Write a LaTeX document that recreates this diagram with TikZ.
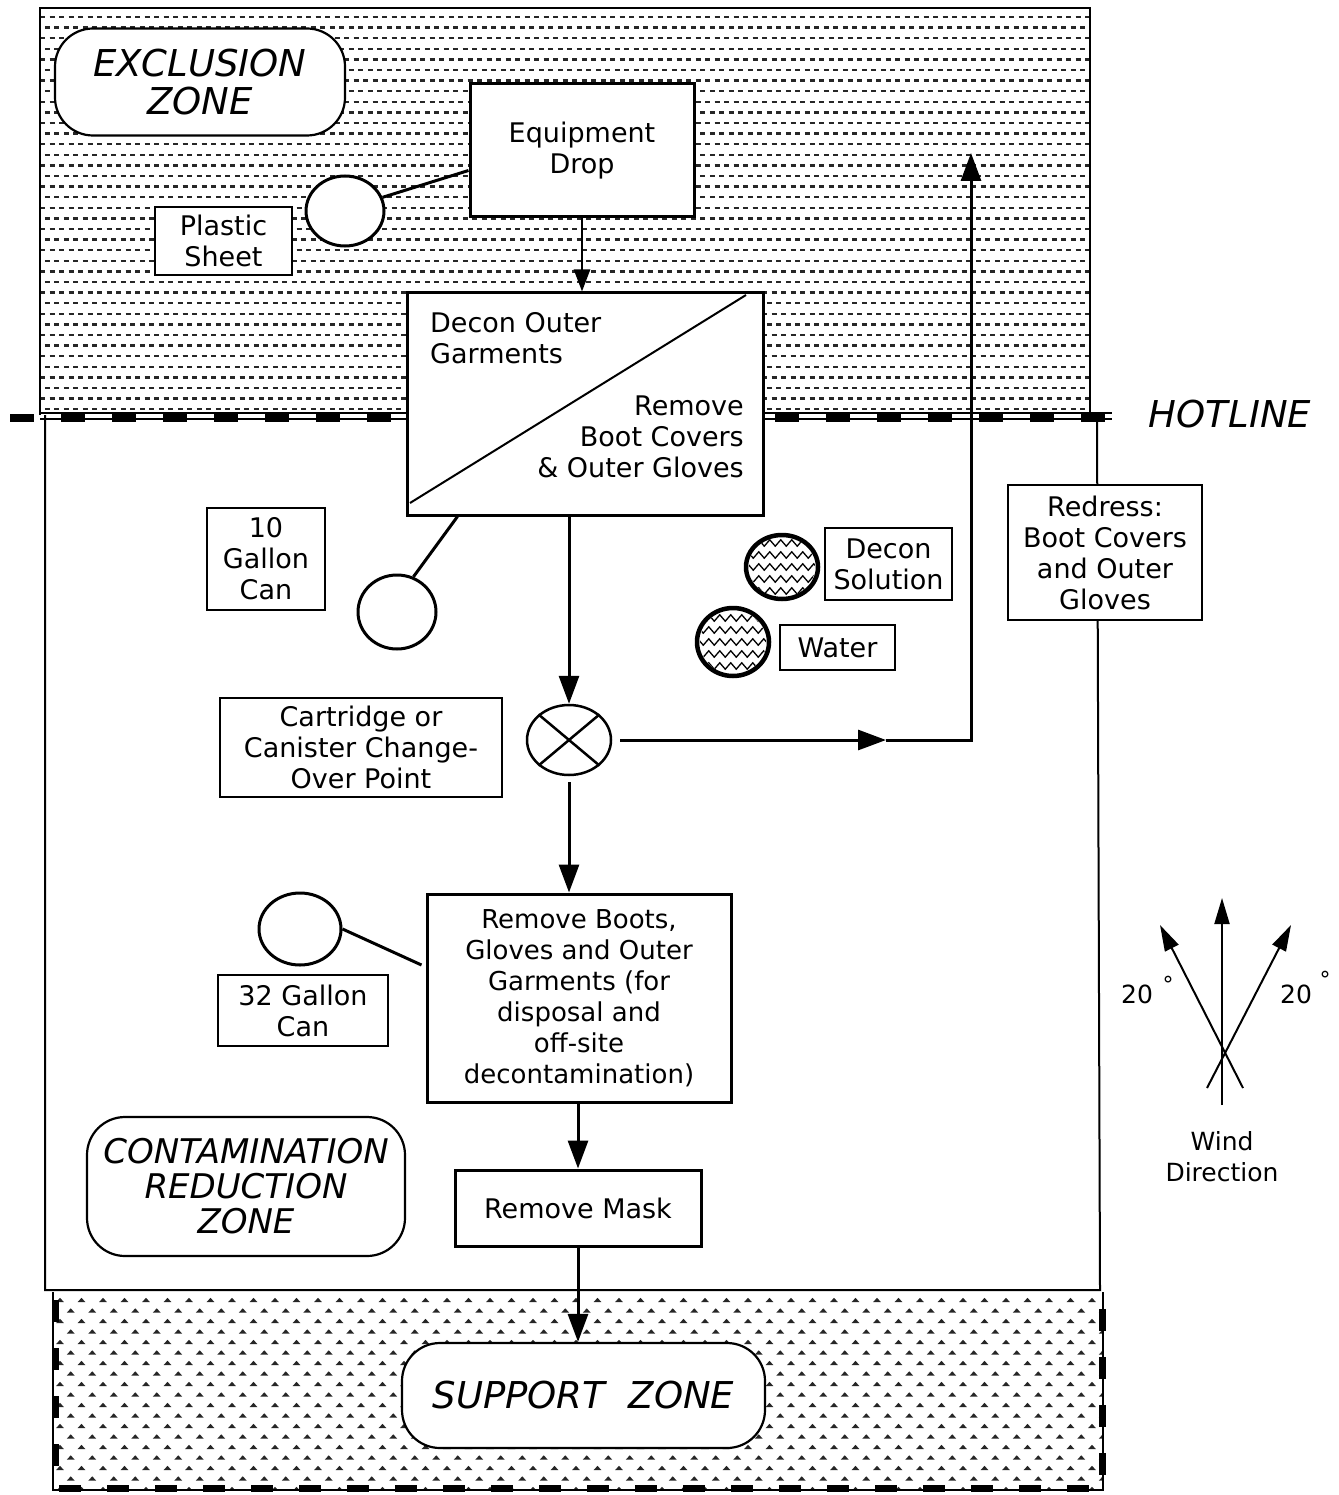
\documentclass[tikz,border=0pt]{standalone}
\usepackage{fontspec}
\setmainfont{DejaVu Sans}
\usetikzlibrary{arrows.meta,shapes.geometric,calc,decorations.pathmorphing}
\begin{document}
\begin{tikzpicture}[x=1pt,y=-1pt,
 box/.style={draw,line width=3pt,fill=white,inner sep=0pt,align=center,font=\fontsize{27}{31}\selectfont},
 sbox/.style={box,line width=2pt},
 zone/.style={draw,line width=2.2pt,fill=white,rounded corners=38pt,inner sep=0pt,align=center,font=\fontsize{36}{36}\selectfont\itshape},
 can/.style={draw,ellipse,line width=3pt,fill=white,inner sep=0pt},
 arr/.style={line width=3pt,-{Triangle[length=28pt,width=20pt]}},
 warr/.style={line width=2pt,-{Triangle[length=26pt,width=15pt]}},
 ln/.style={line width=3pt},
 txt/.style={inner sep=0pt,font=\fontsize{27}{31}\selectfont},
 pat/.style={black!85,line width=2.3pt,dash pattern=on 5pt off 4.5pt},
 wave/.style={line width=1.3pt,decorate,decoration={zigzag,segment length=11pt,amplitude=3.2pt}},
 ]
\fill[white] (0,0) rectangle (1338,1495);
\useasboundingbox (0,0) rectangle (1338,1495);

% ---------- exclusion zone pattern
\begin{scope}
\clip (40,10) rectangle (1090,409);
\foreach \i in {0,...,37} {
  \pgfmathsetmacro\yy{17+10.6*\i}
  \pgfmathsetmacro\ph{mod(\i,2)*4.7}
  \draw[pat,dash phase=\ph pt] (40,\yy) -- (1090,\yy);
}
\end{scope}
\draw[line width=2pt] (40,415) -- (40,8) -- (1090,8) -- (1090,415);

% ---------- support zone pattern
\begin{scope}
\clip (52,1292) rectangle (1103,1490);
\foreach \r in {0,...,18} {
  \pgfmathsetmacro\yy{1300+10.5*\r}
  \pgfmathsetmacro\xo{60+mod(\r,2)*10.75}
  \foreach \c in {0,...,49} {
    \pgfmathsetmacro\xx{\xo+21.5*\c}
    \fill[black!85] (\xx-3.8,\yy+2) -- (\xx,\yy-2.2) -- (\xx+3.8,\yy+2) -- cycle;
  }
}
\end{scope}
\draw[line width=1.5pt] (53,1292) -- (53,1490) -- (1103,1490) -- (1103,1292);
\draw[line width=7pt,dash pattern=on 22pt off 26pt] (55,1300) -- (55,1488) -- (1102,1488) -- (1102,1300);

% ---------- contamination reduction zone frame
\draw[line width=2pt] (45,415) -- (45,1290) -- (1100,1290) -- (1097,415);

% ---------- hotline
\draw[line width=1.2pt] (40,413) -- (1112,413);
\draw[line width=1.2pt] (40,419) -- (1112,419);
\draw[line width=8pt,dash pattern=on 24pt off 27pt] (10,418) -- (1116,418);
\node[inner sep=0pt,font=\fontsize{37}{37}\selectfont\itshape] (hot) at (1230,414) {HOTLINE};

% ---------- zone labels
\node[zone,minimum width=290pt,minimum height=107pt,font=\fontsize{37}{38}\selectfont\itshape] (exz) at (200,82) {EXCLUSION\\ZONE};
\node[zone,minimum width=318pt,minimum height=139pt,font=\fontsize{34}{35}\selectfont\itshape] (crz) at (246,1186.5) {CONTAMINATION\\REDUCTION\\ZONE};
\node[zone,minimum width=363pt,minimum height=105pt,font=\fontsize{37}{38}\selectfont\itshape] (sz) at (583.5,1395.5) {SUPPORT\ \ ZONE};

% ---------- exclusion zone items
\node[box,minimum width=224pt,minimum height=133pt] (equip) at (582,150.5) {Equipment\\Drop};
\node[sbox,minimum width=137pt,minimum height=68pt] (plastic) at (223.5,241) {Plastic\\Sheet};
\node[can,minimum width=78pt,minimum height=70pt] (psc) at (345,211) {};
\draw[ln] (psc.20) -- ($(equip.west)+(0,20)$);

% ---------- decon box
\node[box,minimum width=356pt,minimum height=222pt] (decon) at (585,404) {};
\coordinate (dA) at (410,503);
\coordinate (dB) at (746,295);
\draw[line width=2pt] (dA) -- (dB);
\node[txt,anchor=north west,align=left] (dtxt1) at (430,312) {Decon Outer\\Garments};
\node[txt,anchor=north east,align=right] (dtxt2) at (744,396) {Remove\\Boot Covers\\\& Outer Gloves};
\draw[line width=2.5pt,-{Triangle[length=22pt,width=16pt]}] (equip.south) -- (equip.south |- decon.north);

% ---------- 10 gallon can
\node[sbox,minimum width=118pt,minimum height=102pt] (can10) at (266,559) {10\\Gallon\\Can};
\node[can,minimum width=78pt,minimum height=74pt] (c10) at (397,612) {};
\draw[ln] (c10.65) -- ($(decon.south west)+(52,0)$);

% ---------- decon solution and water
\begin{scope}
\clip (782,567) ellipse (33pt and 30pt);
\foreach \k in {-2,...,2} {\draw[wave] (745,567+12*\k) -- (822,567+12*\k);}
\end{scope}
\node[can,fill=none,line width=4.5pt,minimum width=72pt,minimum height=64pt] (dsc) at (782,567) {};
\node[sbox,minimum width=127pt,minimum height=72pt] (dsbox) at (888.5,564) {Decon\\Solution};
\begin{scope}
\clip (733,642) ellipse (33pt and 32pt);
\foreach \k in {-3,...,3} {\draw[wave] (695,642+12*\k) -- (772,642+12*\k);}
\end{scope}
\node[can,fill=none,line width=4.5pt,minimum width=72pt,minimum height=68pt] (wc) at (733,642) {};
\node[sbox,minimum width=115pt,minimum height=45pt] (wbox) at (837.5,647.5) {Water};

% ---------- change-over point
\node[can,line width=2.5pt,minimum width=84pt,minimum height=70pt] (cross) at (569,740) {};
\draw[line width=2.5pt] (cross.north west) -- (cross.south east);
\draw[line width=2.5pt] (cross.north east) -- (cross.south west);
\node[sbox,minimum width=282pt,minimum height=99pt] (cart) at (361,747.5) {Cartridge or\\Canister Change-\\Over Point};
\draw[arr] (cross.north |- decon.south) -- (cross.north);

% ---------- redress route
\node[sbox,minimum width=194pt,minimum height=135pt] (redress) at (1105,552.5) {Redress:\\Boot Covers\\and Outer\\Gloves};
\coordinate (rmid) at (886,740);
\coordinate (rcorner) at (971,740);
\coordinate (rtop) at (971,153);
\draw[arr] ($(cross.east)+(8,0)$) -- (rmid);
\draw[arr] (rmid) -- (rcorner) -- (rtop);

% ---------- remove boots
\node[box,minimum width=304pt,minimum height=208pt,font=\fontsize{26}{31}\selectfont] (boots) at (579,998) {Remove Boots,\\Gloves and Outer\\Garments (for\\disposal and\\off-site\\decontamination)};
\draw[arr] ($(cross.south)+(0,6)$) -- (cross.south |- boots.north);
\node[can,minimum width=82pt,minimum height=72pt] (c32) at (300,929) {};
\node[sbox,minimum width=170pt,minimum height=71pt] (can32) at (303,1010.5) {32 Gallon\\Can};
\draw[ln] (c32.east) -- ($(boots.west)+(-4,-33)$);

% ---------- remove mask
\node[box,minimum width=246pt,minimum height=76pt] (mask) at (578,1208) {Remove Mask};
\draw[arr] (mask.north |- boots.south) -- (mask.north);
\draw[arr] (mask.south) -- (mask.south |- sz.north);

% ---------- wind direction
\coordinate (w0) at (1222,1105);
\coordinate (w1) at (1222,898);
\coordinate (wl0) at (1243,1088);
\coordinate (wl1) at (1160,925);
\coordinate (wr0) at (1207,1088);
\coordinate (wr1) at (1291,925);
\draw[warr] (w0) -- (w1);
\draw[warr] (wl0) -- (wl1);
\draw[warr] (wr0) -- (wr1);
\node[txt,font=\fontsize{25}{31}\selectfont] (d20l) at (1137,994) {20};
\node[txt,font=\fontsize{22}{22}\selectfont] (degl) at (1168,984) {°};
\node[txt,font=\fontsize{25}{31}\selectfont] (d20r) at (1296,994) {20};
\node[txt,font=\fontsize{22}{22}\selectfont] (degr) at (1325,979) {°};
\node[txt,align=center,font=\fontsize{25}{31}\selectfont] (wind) at (1222,1157) {Wind\\Direction};
\end{tikzpicture}
\end{document}
